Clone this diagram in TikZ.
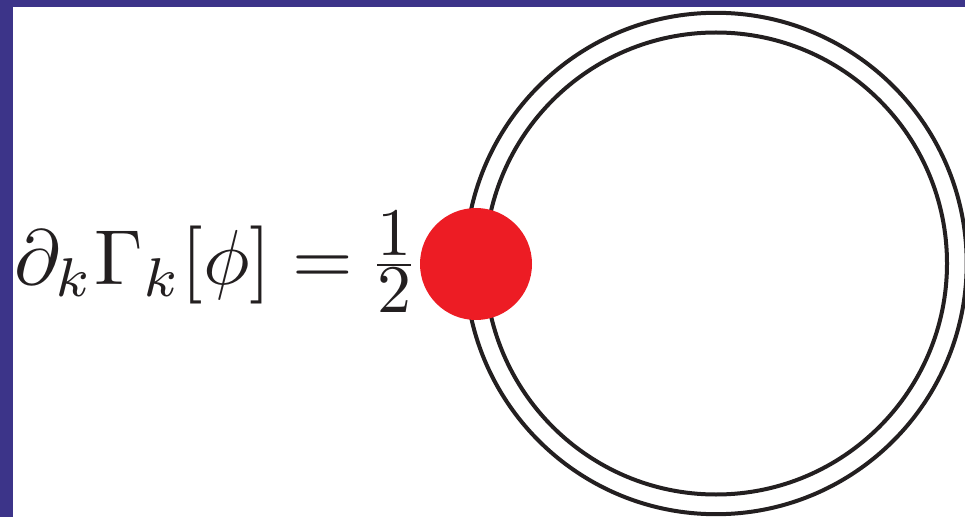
\documentclass[tikz,border=0pt]{standalone}
\usepackage{amsmath}
\definecolor{slideblue}{RGB}{60,52,137}
\definecolor{loopline}{RGB}{35,31,32}
\definecolor{dotred}{RGB}{237,28,36}
\begin{document}
\begin{tikzpicture}[x=1pt,y=1pt,
  loopcircle/.style={draw=loopline,line width=4pt},
  vertexdot/.style={circle,fill=dotred,inner sep=0pt,minimum size=112pt},
  eqtext/.style={inner sep=0pt,text=loopline}]
\useasboundingbox (0,0) rectangle (965,517);
\fill[slideblue] (0,0) rectangle (965,517);
\fill[white] (13,0) rectangle (965,510);
\begin{scope}
\clip (13,0) rectangle (965,510);
\draw[loopcircle] (716,253.5) circle[radius=250.7];
\draw[loopcircle] (716,253.5) circle[radius=231];
\end{scope}
\node[vertexdot] (v) at (476,253) {};
\node[eqtext,anchor=base west,scale=7.8] (eq) at (13,232) {$\partial_k\Gamma_k[\phi]=$};
\node[eqtext,anchor=base,scale=6.8] (half) at (394,235) {$\frac{\textstyle 1}{\textstyle 2}$};
\end{tikzpicture}
\end{document}
